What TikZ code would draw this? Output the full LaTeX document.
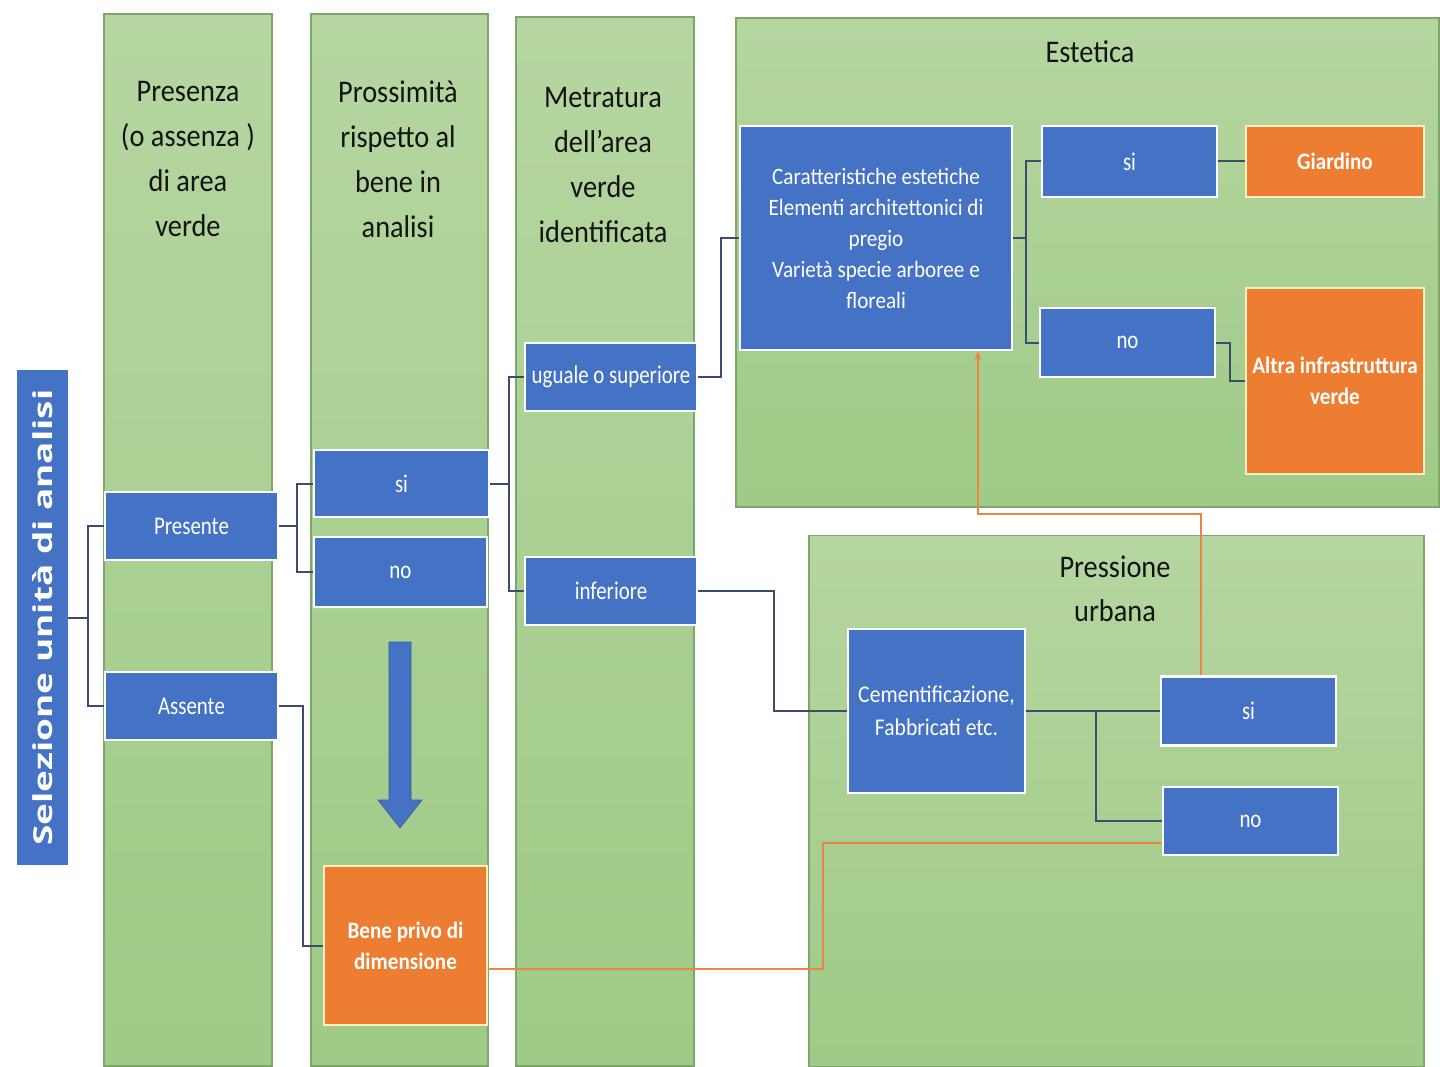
\documentclass[tikz,border=0pt]{standalone}
\usepackage{fontspec}
\setmainfont{Carlito}[FakeStretch=0.9]
\newfontfamily\boxf{Carlito}[FakeStretch=0.82]
\newfontfamily\osans{Open Sans}
\usetikzlibrary{arrows.meta}
\definecolor{bblue}{HTML}{4472C4}
\definecolor{borange}{HTML}{ED7D31}
\definecolor{oborder}{HTML}{FFEFC0}
\definecolor{gtop}{HTML}{B5D6A0}
\definecolor{gbot}{HTML}{9FCA87}
\definecolor{gborder}{HTML}{7FA66A}
\definecolor{cline}{HTML}{3C4B6E}
\definecolor{oline}{HTML}{EF8440}
\definecolor{htext}{HTML}{141414}
\tikzset{
  panel/.style={draw=gborder, line width=1.2pt, top color=gtop, bottom color=gbot, inner sep=0pt},
  hdr/.style={text=htext, align=center, font=\fontsize{31.5}{45}\selectfont, inner sep=0pt},
  bbox/.style={draw=white, line width=2.5pt, fill=bblue, text=white, align=center, inner sep=2pt,
    font=\boxf\fontsize{25.5}{31}\selectfont},
  obox/.style={draw=oborder, line width=2.5pt, fill=borange, text=white, align=center, inner sep=2pt,
    font=\bfseries\fontsize{23.5}{31}\selectfont},
  conn/.style={draw=cline, line width=2pt},
  oconn/.style={draw=oline, line width=2pt},
  wh/.style 2 args={minimum width=#1pt, minimum height=#2pt}
}
\begin{document}
\begin{tikzpicture}[x=1pt,y=-1pt]
\useasboundingbox (0,0) rectangle (1440,1067);
\fill[white] (0,0) rectangle (1440,1067);

% panels
\node[panel, wh={168}{1052}] (c1) at (188,540) {};
\node[panel, wh={177}{1052}] (c2) at (399.5,540) {};
\node[panel, wh={178}{1049}] (c3) at (605,541.5) {};
\node[panel, wh={703}{489}] (est) at (1087.5,262.5) {};
\node[panel, wh={615}{531}] (pu) at (1116.5,801) {};

% headers
\node[hdr] (h1) at (188,159) {Presenza\\(o assenza )\\di area\\verde};
\node[hdr] (h2) at (398,159) {Prossimità\\rispetto al\\bene in\\analisi};
\node[hdr] (h3) at (603,165) {Metratura\\dell’area\\verde\\identificata};
\node[hdr] (h4) at (1090,52) {Estetica};
\node[hdr, font=\fontsize{31.5}{44}\selectfont] (h5) at (1115,589) {Pressione\\urbana};

% left label
\node[fill=bblue, draw=none, text=white, rotate=90, minimum width=495pt, minimum height=51pt, inner sep=0pt] (sel) at (42.5,617.5)
  {\resizebox{456pt}{20pt}{\osans\bfseries Selezione unità di analisi}};

% blue boxes
\node[bbox, wh={173}{68}] (pres) at (191.5,526) {Presente};
\node[bbox, wh={173}{68}] (ass) at (191.5,706) {Assente};
\node[bbox, wh={175}{67}] (si1) at (401.5,483.5) {si};
\node[bbox, wh={173}{70}] (no1) at (400.5,572) {no};
\node[bbox, wh={172}{68}] (ug) at (611,377) {uguale o superiore};
\node[bbox, wh={172}{68}] (inf) at (611,591) {inferiore};
\node[bbox, wh={272}{224}, font=\fontsize{23.5}{31}\selectfont] (car) at (876,238) {Caratteristiche estetiche\\Elementi architettonici di\\pregio\\Varietà specie arboree e\\floreali};
\node[bbox, wh={175}{71}] (si2) at (1129.5,161.5) {si};
\node[bbox, wh={175}{69}] (no2) at (1127.5,342.5) {no};
\node[bbox, wh={177}{164}, font=\fontsize{24}{33}\selectfont] (cem) at (936.5,711) {Cementificazione,\\Fabbricati etc.};
\node[bbox, wh={175}{69}] (si3) at (1248.5,711) {si};
\node[bbox, wh={175}{68}] (no3) at (1250.5,821) {no};

% orange boxes
\node[obox, wh={178}{71}] (giar) at (1335,161.5) {Giardino};
\node[obox, wh={178}{186}] (altra) at (1335,381) {Altra infrastruttura\\verde};
\node[obox, wh={163}{159}] (bene) at (405.5,945.5) {Bene privo di\\dimensione};

% big down arrow
\fill[bblue, draw=bblue!80!black, line width=0.6pt]
  (389,642) -- (411,642) -- (411,800) -- (422,800) -- (400,828) -- (378,800) -- (389,800) -- cycle;

% connectors
\draw[conn] (sel.south) -- ++(20,0) |- (pres.west);
\draw[conn] (sel.south) ++(20,0) |- (ass.west);
\draw[conn] (pres.east) -- ++(18,0) |- (si1.west);
\draw[conn] (pres.east) ++(18,0) |- (no1.west);
\draw[conn] (si1.east) -- ++(19,0) |- (ug.west);
\draw[conn] (si1.east) ++(19,0) |- (inf.west);
\draw[conn] (ug.east) -- ++(23,0) |- (car.west);
\draw[conn] (car.east) -- ++(13,0) |- (si2.west);
\draw[conn] (car.east) ++(13,0) |- (no2.west);
\draw[conn] (si2.east) -- (giar.west);
\draw[conn] (no2.east) -- ++(14,0) |- (altra.west);
\draw[conn] (inf.east) -- ++(76,0) |- (cem.west);
\draw[conn] (cem.east) -- (si3.west);
\draw[conn] (cem.east) ++(70,0) |- (no3.west);
\draw[conn] (ass.east) -- ++(24,0) |- (bene.west);

% orange connectors
\draw[oconn] ([yshift=-23.5pt]bene.east) -- ++(335,0) |- ([yshift=-22pt]no3.west);
\draw[oconn, -{Stealth[length=9pt,width=7pt]}] ([xshift=-48pt]si3.north) -- ++(0,-161) -| ([xshift=102pt]car.south);
\end{tikzpicture}
\end{document}
